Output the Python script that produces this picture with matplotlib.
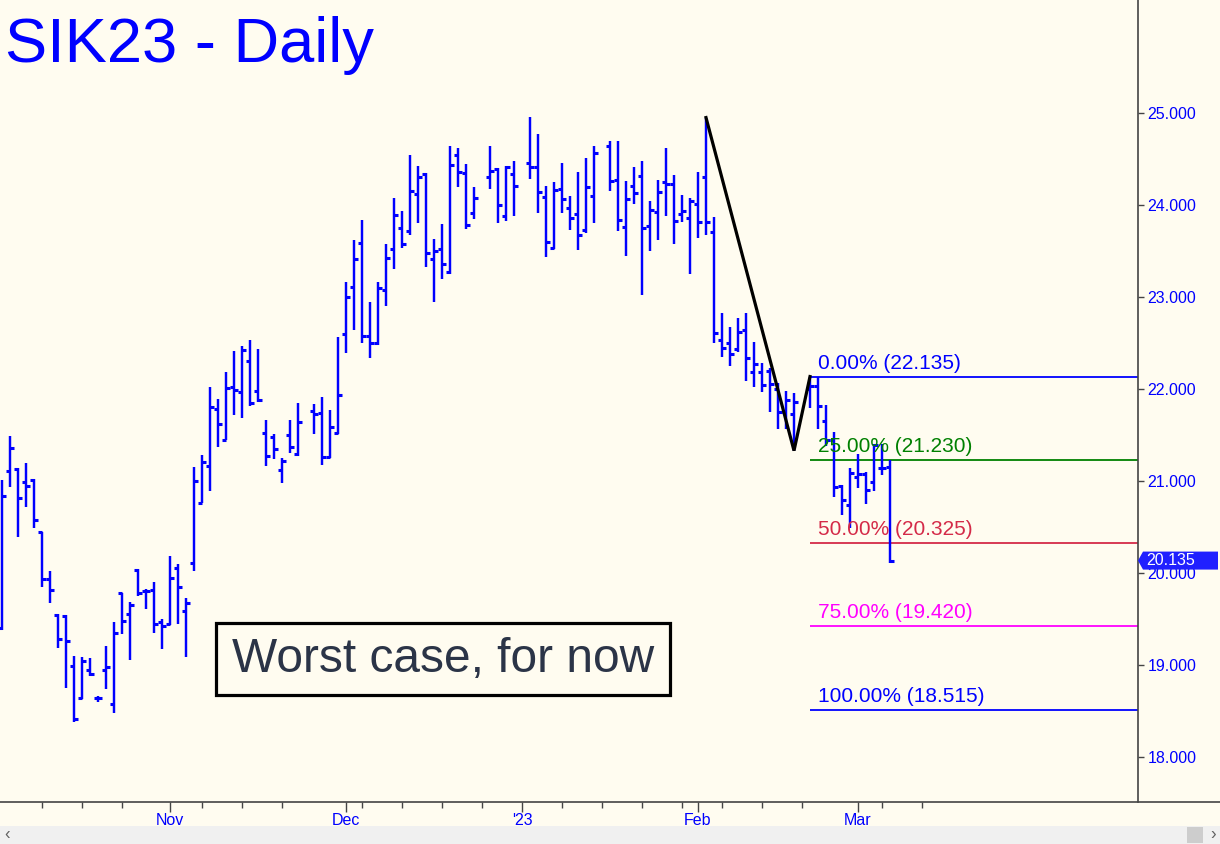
import numpy as np
import matplotlib
matplotlib.use("Agg")
import matplotlib.pyplot as plt
import matplotlib.transforms as mtransforms
from matplotlib.patches import Rectangle, Polygon
from matplotlib.lines import Line2D

plt.rcParams['font.family'] = ['Liberation Sans', 'DejaVu Sans']

# daily bars, SIK23
dates = ['2022-10-03', '2022-10-04', '2022-10-05', '2022-10-06', '2022-10-07',
         '2022-10-10', '2022-10-11', '2022-10-12', '2022-10-13', '2022-10-14',
         '2022-10-17', '2022-10-18', '2022-10-19', '2022-10-20', '2022-10-21',
         '2022-10-24', '2022-10-25', '2022-10-26', '2022-10-27', '2022-10-28',
         '2022-10-31', '2022-11-01', '2022-11-02', '2022-11-03', '2022-11-04',
         '2022-11-07', '2022-11-08', '2022-11-09', '2022-11-10', '2022-11-11',
         '2022-11-14', '2022-11-15', '2022-11-16', '2022-11-17', '2022-11-18',
         '2022-11-21', '2022-11-22', '2022-11-23', '2022-11-25',
         '2022-11-28', '2022-11-29', '2022-11-30', '2022-12-01', '2022-12-02',
         '2022-12-05', '2022-12-06', '2022-12-07', '2022-12-08', '2022-12-09',
         '2022-12-12', '2022-12-13', '2022-12-14', '2022-12-15', '2022-12-16',
         '2022-12-19', '2022-12-20', '2022-12-21', '2022-12-22', '2022-12-23',
         '2022-12-27', '2022-12-28', '2022-12-29', '2022-12-30',
         '2023-01-03', '2023-01-04', '2023-01-05', '2023-01-06',
         '2023-01-09', '2023-01-10', '2023-01-11', '2023-01-12', '2023-01-13',
         '2023-01-17', '2023-01-18', '2023-01-19', '2023-01-20',
         '2023-01-23', '2023-01-24', '2023-01-25', '2023-01-26', '2023-01-27',
         '2023-01-30', '2023-01-31', '2023-02-01', '2023-02-02', '2023-02-03',
         '2023-02-06', '2023-02-07', '2023-02-08', '2023-02-09', '2023-02-10',
         '2023-02-13', '2023-02-14', '2023-02-15', '2023-02-16', '2023-02-17',
         '2023-02-21', '2023-02-22', '2023-02-23', '2023-02-24',
         '2023-02-27', '2023-02-28', '2023-03-01', '2023-03-02', '2023-03-03',
         '2023-03-06', '2023-03-07']

opens = [19.40, 21.11, 21.13, 20.99, 21.01,
         20.45, 19.93, 19.54, 19.53, 18.99,
         18.64, 18.95, 18.64, 18.95, 18.58,
         19.78, 19.55, 20.03, 19.80, 19.82,
         19.47, 19.45, 20.05, 19.59, 20.11,
         20.76, 21.16, 21.78, 21.45, 22.02,
         21.97, 22.30, 21.98, 21.52, 21.48,
         21.12, 21.50, 21.29, 21.76,
         21.74, 21.26, 21.52, 22.60, 23.11,
         23.59, 22.58, 22.50, 23.08, 23.52,
         23.75, 23.72, 24.12, 24.34, 23.41,
         23.52, 23.27, 24.54, 24.35, 23.91,
         24.30, 24.39, 23.88, 24.34,
         24.46, 24.41, 24.09, 23.53,
         24.17, 23.97, 23.90, 23.73, 24.10,
         24.64, 24.27, 23.76, 24.21,
         24.32, 23.77, 23.92, 24.25, 24.23,
         23.90, 23.86, 24.01, 24.30, 23.71,
         22.53, 22.50, 22.43, 22.64, 22.18,
         22.18, 22.20, 22.00, 21.75, 21.73,
         22.00, 22.03, 21.65, 21.45,
         20.95, 20.74, 21.04, 21.08, 20.99,
         21.14, 21.15]

highs = [21.01, 21.49, 21.14, 21.20, 21.02,
         20.45, 20.02, 19.55, 19.54, 19.10,
         19.09, 19.08, 18.66, 19.21, 19.47,
         19.78, 19.68, 20.04, 19.83, 19.90,
         19.50, 20.18, 20.10, 19.73, 21.15,
         21.28, 22.02, 21.89, 22.18, 22.41,
         22.47, 22.53, 22.43, 21.66, 21.51,
         21.25, 21.66, 21.85, 21.84,
         21.91, 21.77, 22.57, 23.16, 23.62,
         23.84, 22.95, 23.16, 23.58, 24.08,
         23.93, 24.54, 24.42, 24.35, 23.63,
         23.79, 24.64, 24.62, 24.45, 24.20,
         24.64, 24.40, 24.42, 24.48,
         24.96, 24.77, 24.21, 24.25,
         24.46, 24.10, 24.36, 24.51, 24.64,
         24.70, 24.70, 24.26, 24.41,
         24.48, 24.04, 24.27, 24.62, 24.33,
         24.11, 24.08, 24.36, 24.95, 23.87,
         22.83, 22.67, 22.77, 22.83, 22.51,
         22.28, 22.23, 22.07, 21.98, 21.96,
         22.135, 22.135, 21.83, 21.53,
         20.96, 21.14, 21.29, 21.10, 21.40,
         21.40, 21.23]

lows = [19.38, 20.93, 20.39, 20.72, 20.49,
        19.85, 19.67, 19.18, 18.75, 18.38,
        18.63, 18.88, 18.60, 18.74, 18.48,
        19.34, 19.05, 19.75, 19.61, 19.35,
        19.17, 19.43, 19.45, 19.09, 20.02,
        20.76, 20.89, 21.37, 21.45, 21.72,
        21.68, 21.82, 21.86, 21.16, 21.24,
        20.98, 21.30, 21.27, 21.51,
        21.17, 21.25, 21.51, 22.39, 22.64,
        22.50, 22.34, 22.48, 22.90, 23.30,
        23.53, 23.67, 23.80, 23.33, 22.95,
        23.20, 23.25, 24.20, 23.74, 23.85,
        24.17, 23.80, 23.83, 23.88,
        24.28, 23.91, 23.43, 23.52,
        23.91, 23.73, 23.51, 23.70, 23.80,
        24.15, 23.72, 23.45, 24.01,
        23.02, 23.50, 23.62, 23.88, 23.58,
        23.82, 23.25, 23.64, 23.67, 22.50,
        22.35, 22.25, 22.40, 22.09, 22.02,
        21.97, 21.75, 21.57, 21.57, 21.33,
        21.79, 21.57, 21.38, 20.83,
        20.63, 20.49, 20.92, 20.75, 20.89,
        21.07, 20.11]

closes = [20.84, 21.36, 20.82, 20.95, 20.58,
          19.93, 19.81, 19.28, 19.26, 18.41,
          19.04, 18.90, 18.64, 18.98, 19.35,
          19.48, 19.65, 19.78, 19.80, 19.45,
          19.42, 19.95, 19.85, 19.67, 21.00,
          21.21, 21.80, 21.62, 22.01, 21.99,
          22.42, 21.85, 21.88, 21.27, 21.35,
          21.22, 21.37, 21.64, 21.73,
          21.26, 21.59, 21.93, 23.00, 23.41,
          22.58, 22.50, 23.10, 23.42, 23.89,
          23.58, 24.15, 24.30, 23.48, 23.50,
          23.36, 24.43, 24.36, 23.78, 24.08,
          24.37, 24.00, 24.41, 24.21,
          24.41, 24.14, 23.60, 24.16,
          24.07, 23.86, 23.67, 24.20, 24.57,
          24.26, 23.84, 24.07, 24.13,
          23.75, 23.95, 24.14, 24.23, 23.83,
          23.93, 24.04, 23.82, 23.82, 22.61,
          22.45, 22.38, 22.62, 22.34, 22.27,
          22.04, 22.05, 21.75, 21.88, 21.86,
          22.03, 21.82, 21.45, 20.93,
          20.79, 21.09, 21.08, 20.90, 21.39,
          21.14, 20.135]

# A-B-C swing and the fib targets off C
abc_dates = ['2023-02-02', '2023-02-17', '2023-02-21']
abc_prices = [24.950, 21.330, 22.135]
fib_pcts = [0, 25, 50, 75, 100]
fib_colors = ['#0000FF', '#008000', '#D42A48', '#FF00FF', '#0000FF']
last_price = 20.135

month_ticks = ['2022-11-01', '2022-12-01', '2023-01-02', '2023-02-01', '2023-03-01']
month_labels = ['Nov', 'Dec', "'23", 'Feb', 'Mar']
week_ticks = ['2022-10-10', '2022-10-17', '2022-10-24', '2022-11-07', '2022-11-14',
              '2022-11-21', '2022-12-05', '2022-12-12', '2022-12-19', '2022-12-26',
              '2023-01-09', '2023-01-16', '2023-01-23', '2023-01-30', '2023-02-06',
              '2023-02-13', '2023-02-20', '2023-03-06', '2023-03-13']

start = '2022-10-03'


def slot(d):
    # one slot per weekday, holidays leave a gap
    return np.busday_count(start, np.array(d, dtype='datetime64[D]'))


bg = '#FFFCF0'
blue = '#0000FF'
grey = '#444444'

fig = plt.figure(figsize=(12.2, 8.44), dpi=100, facecolor=bg)
ax = fig.add_axes([0, 42 / 844, 1138 / 1220, 802 / 844], facecolor=bg)

x = slot(dates).astype(float)
o = np.array(opens)
h = np.array(highs)
l = np.array(lows)
c = np.array(closes)

ax.vlines(x, l, h, color=blue, lw=1.75, capstyle='butt', zorder=3)
ax.hlines(o, x - 0.5, x, color=blue, lw=2.2, capstyle='butt', zorder=3)
ax.hlines(c, x, x + 0.5, color=blue, lw=2.2, capstyle='butt', zorder=3)

# abc line
ax.plot(slot(abc_dates), abc_prices, color='black', lw=2.3, zorder=4,
        solid_joinstyle='miter')

xmax = 142.0
rng = abc_prices[0] - abc_prices[1]
xc = float(slot(abc_dates[2]))
for pct, col in zip(fib_pcts, fib_colors):
    lev = abc_prices[2] - rng * pct / 100.0
    ax.hlines(lev, xc, xmax, color=col, lw=1.3, zorder=2)
    ax.text(xc + 0.95, lev + 8 / 92, f'{pct:.2f}% ({lev:.3f})', color=col,
            fontsize=15, va='baseline', ha='left', zorder=5)

ax.set_xlim(-0.25, xmax)
ax.set_ylim(17.511, 26.228)

ax.spines['top'].set_visible(False)
ax.spines['left'].set_visible(False)
ax.spines['bottom'].set_visible(False)
ax.spines['right'].set_color(grey)
ax.spines['right'].set_linewidth(1.2)

ax.yaxis.tick_right()
ax.set_yticks(np.arange(18, 26, 1.0))
ax.set_yticklabels([f'{v:.3f}' for v in np.arange(18, 26, 1.0)])
ax.tick_params(axis='y', direction='out', length=4, width=1, color=grey,
               labelcolor=blue, labelsize=11.5, pad=3)

ax.set_xticks(slot(month_ticks))
ax.set_xticklabels(month_labels)
ax.set_xticks(slot(week_ticks), minor=True)
ax.tick_params(axis='x', which='major', direction='out', length=7, width=1,
               color=grey, labelcolor=blue, labelsize=11.5, pad=1)
ax.tick_params(axis='x', which='minor', direction='out', length=4, width=1,
               color=grey)

# bottom axis line across the full width
fig.add_artist(Line2D([0, 1], [42 / 844, 42 / 844], color=grey, lw=1.2,
                      transform=fig.transFigure))

# last price flag
tr = mtransforms.blended_transform_factory(ax.transAxes, ax.transData)
hh = 9 / 92
x1 = 1 + 5 / 1138
x2 = 1218 / 1138
flag = Polygon([(1.0, last_price), (x1, last_price + hh), (x2, last_price + hh),
                (x2, last_price - hh), (x1, last_price - hh)], closed=True,
               transform=tr, facecolor='#2020FF', edgecolor='none',
               clip_on=False, zorder=10)
ax.add_patch(flag)
ax.text(1 + 8 / 1138, last_price, f'{last_price:.3f}', transform=tr, color='white',
        fontsize=11.5, va='center', ha='left', clip_on=False, zorder=11)

# title
fig.text(5 / 1220, 1 - 62 / 844, 'SIK23 - Daily', color=blue, fontsize=45.5,
         va='baseline', ha='left')

# note box
fig.add_artist(Rectangle((216 / 1220, 1 - 695 / 844), 454 / 1220, 72 / 844,
                         transform=fig.transFigure, facecolor=bg,
                         edgecolor='black', lw=2.3, zorder=6))
fig.text(443 / 1220, 1 - 659 / 844, 'Worst case, for now', color='#2B3447',
         fontsize=34.5, ha='center', va='center', zorder=7)

# scrollbar strip
fig.add_artist(Rectangle((0, 0), 1, 18 / 844, transform=fig.transFigure,
                         facecolor='#F0F0F0', edgecolor='none', zorder=-1))
fig.add_artist(Rectangle((1187 / 1220, 1 / 844), 16 / 1220, 16 / 844,
                         transform=fig.transFigure, facecolor='#CDCDCD',
                         edgecolor='none', zorder=-1))
fig.text(4 / 1220, 9 / 844, '\u2039', color='#606060', fontsize=12,
         va='center', ha='left')
fig.text(1216 / 1220, 9 / 844, '\u203a', color='#606060', fontsize=12,
         va='center', ha='right')

fig.savefig('out.png', dpi=100, facecolor=bg)
